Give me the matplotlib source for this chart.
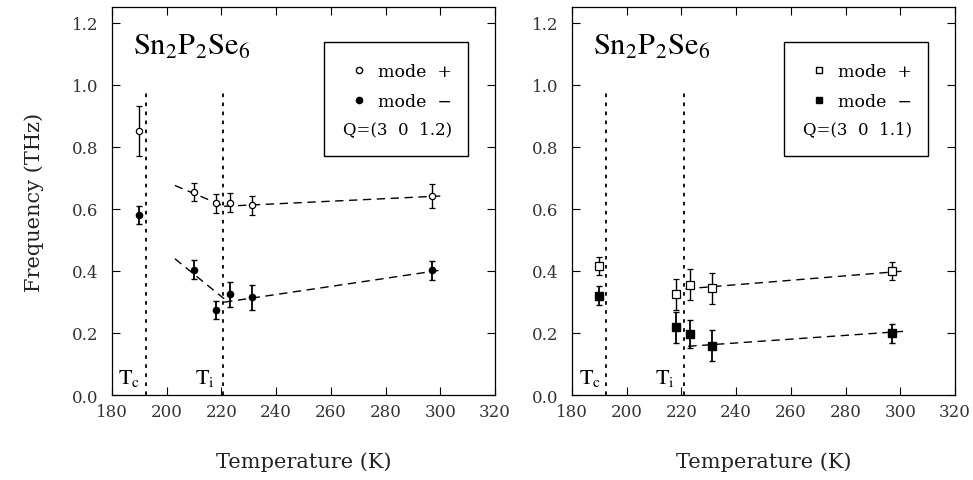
import matplotlib
matplotlib.use('Agg')
import matplotlib.pyplot as plt
from matplotlib.patches import Rectangle
from matplotlib.lines import Line2D

plt.rcParams['font.family'] = 'DejaVu Serif'
plt.rcParams['mathtext.fontset'] = 'stix'

# left panel, Q=(3 0 1.2)
temps_a = [190, 210, 218, 223, 231, 297]
plus_a = [0.85, 0.654, 0.617, 0.62, 0.611, 0.641]
plus_err_a = [0.08, 0.03, 0.03, 0.03, 0.03, 0.04]
minus_a = [0.58, 0.404, 0.274, 0.324, 0.315, 0.402]
minus_err_a = [0.03, 0.03, 0.03, 0.04, 0.04, 0.03]
fit_plus_a = [([203, 221], [0.675, 0.608]), ([221, 300], [0.608, 0.641])]
fit_minus_a = [([203, 221], [0.439, 0.31]), ([221, 300], [0.299, 0.402])]

# right panel, Q=(3 0 1.1)
temps_b = [190, 218, 223, 231, 297]
plus_b = [0.415, 0.324, 0.355, 0.344, 0.399]
plus_err_b = [0.03, 0.05, 0.05, 0.05, 0.03]
minus_b = [0.32, 0.218, 0.196, 0.159, 0.199]
minus_err_b = [0.03, 0.05, 0.045, 0.05, 0.03]
fit_plus_b = [([221.5, 301], [0.342, 0.399])]
fit_minus_b = [([222.5, 301], [0.157, 0.205])]

t_c = [192.5, 192.6]
t_i = [220.6, 220.8]
q_labels = ['Q=(3  0  1.2)', 'Q=(3  0  1.1)']
markers = ['o', 's']

fig = plt.figure(figsize=(9.73, 4.81), dpi=100)
ax1 = fig.add_axes([0.1151, 0.1767, 0.3936, 0.8067])
ax2 = fig.add_axes([0.5879, 0.1767, 0.3936, 0.8067])

panels = [
    (ax1, temps_a, plus_a, plus_err_a, minus_a, minus_err_a, fit_plus_a, fit_minus_a),
    (ax2, temps_b, plus_b, plus_err_b, minus_b, minus_err_b, fit_plus_b, fit_minus_b),
]

for i, (ax, t, p, pe, m, me, fp, fm) in enumerate(panels):
    mk = markers[i]
    ms = 4.5 if mk == 'o' else 5.5
    ax.errorbar(t, p, yerr=pe, fmt=mk, ms=ms, mfc='white', mec='black',
                ecolor='black', elinewidth=1.0, capsize=2.5, mew=0.9, zorder=3)
    ax.errorbar(t, m, yerr=me, fmt=mk, ms=ms, mfc='black', mec='black',
                ecolor='black', elinewidth=1.3, capsize=2.5, zorder=3)
    for xs, ys in fp + fm:
        ax.plot(xs, ys, color='black', lw=1.0, dashes=(6, 4), zorder=2)

    ax.plot([t_c[i], t_c[i]], [0, 0.975], color='black', lw=1.3, dashes=(2, 3))
    ax.plot([t_i[i], t_i[i]], [0, 0.975], color='black', lw=1.3, dashes=(2, 3))
    ax.text(t_c[i] - 2, 0.022, r'$\mathrm{T_c}$', ha='right', va='bottom', fontsize=16)
    ax.text(t_i[i] - 3, 0.022, r'$\mathrm{T_i}$', ha='right', va='bottom', fontsize=16)

    ax.text(0.055, 0.9, r'$\mathrm{Sn_2P_2Se_6}$', transform=ax.transAxes,
            fontsize=22, ha='left', va='center')

    ax.add_patch(Rectangle((0.554, 0.617), 0.3755, 0.292, transform=ax.transAxes,
                           fill=False, ec='black', lw=1.0, zorder=4))
    handles = [
        Line2D([], [], ls='none', marker=mk, ms=4.5, mfc='white', mec='black'),
        Line2D([], [], ls='none', marker=mk, ms=4.5, mfc='black', mec='black'),
    ]
    ax.legend(handles, ['mode  +', 'mode  \u2212'], loc='upper left',
              bbox_to_anchor=(0.585, 0.895), frameon=False, fontsize=12.5,
              handlelength=0.8, handletextpad=0.7, labelspacing=0.75)
    ax.text(0.887, 0.687, q_labels[i], transform=ax.transAxes, ha='right',
            va='center', fontsize=12)

    ax.set_xlim(180, 320)
    ax.set_ylim(0, 1.25)
    ax.set_xticks(range(180, 321, 20))
    ax.set_yticks([0.0, 0.2, 0.4, 0.6, 0.8, 1.0, 1.2])
    ax.set_yticklabels(['0.0', '0.2', '0.4', '0.6', '0.8', '1.0', '1.2'])
    ax.tick_params(direction='in', top=True, right=True, length=6, width=0.8,
                   labelsize=12, labelcolor='#333333')
    ax.tick_params(axis='y', pad=10)
    ax.tick_params(axis='x', pad=6)
    ax.set_xlabel('Temperature (K)', fontsize=15, labelpad=22, color='#222222')
    for s in ax.spines.values():
        s.set_linewidth(0.9)

ax1.set_ylabel('Frequency (THz)', fontsize=15, labelpad=20, color='#222222')

fig.savefig('out.png', dpi=100)
